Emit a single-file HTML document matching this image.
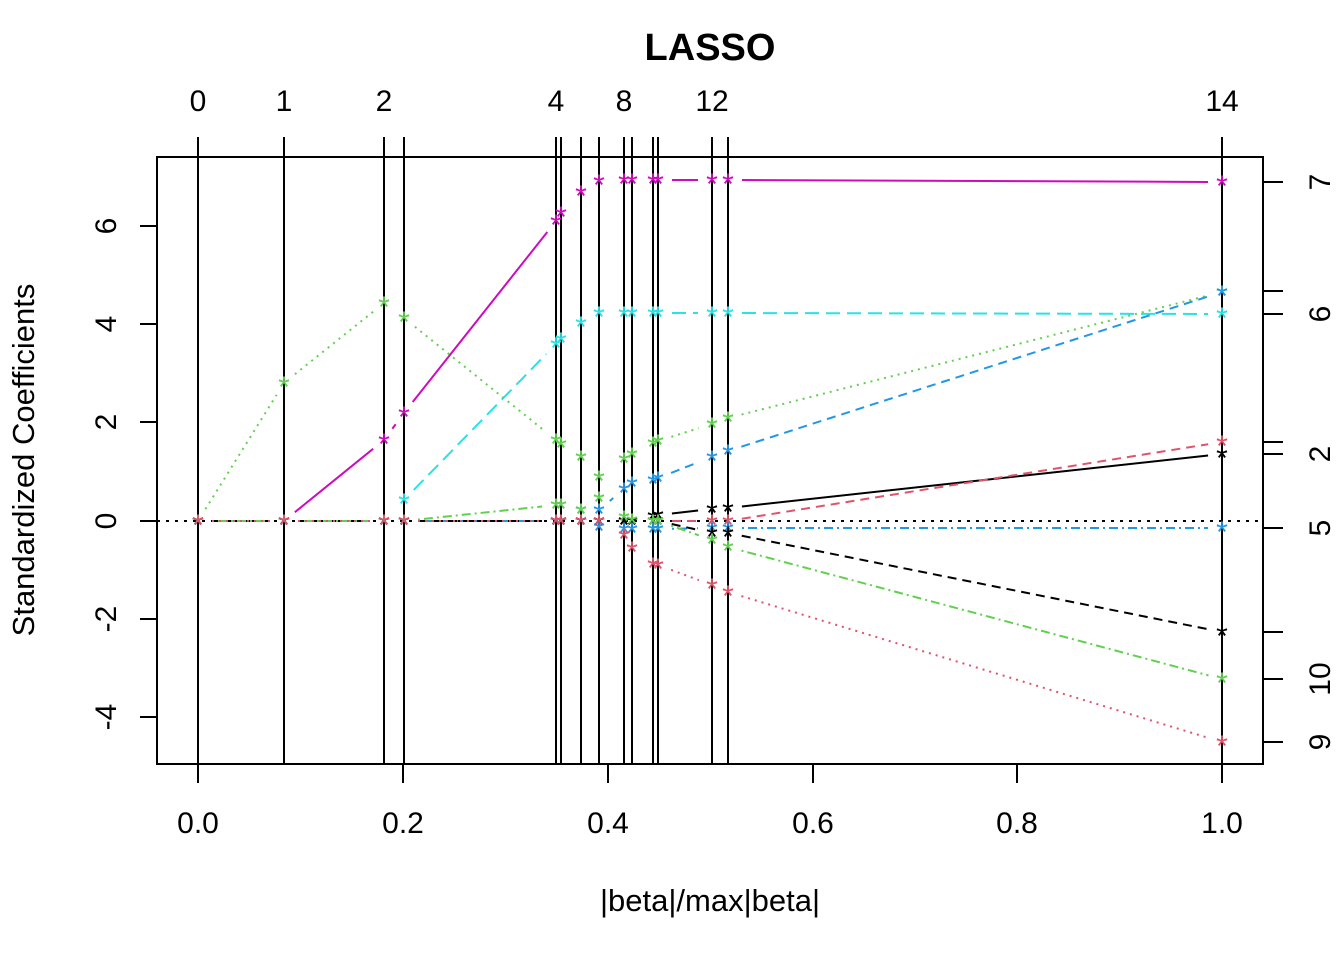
<!DOCTYPE html>
<html><head><meta charset="utf-8">
<style>
html,body{margin:0;padding:0;background:#fff;}
svg{display:block;font-family:"Liberation Sans",sans-serif;}
</style></head>
<body>
<svg id="c" width="1344" height="960" viewBox="0 0 1344 960" xmlns="http://www.w3.org/2000/svg">
<rect x="0" y="0" width="1344" height="960" fill="#fff"/>
<text x="710" y="60" font-size="38" font-weight="bold" text-anchor="middle">LASSO</text>
<g id="g"></g>
<rect x="157" y="157" width="1106" height="607" fill="none" stroke="#000" stroke-width="2"/>
<text x="710" y="911" font-size="31" text-anchor="middle">|beta|/max|beta|</text>
<text transform="translate(34,460) rotate(-90)" font-size="31" text-anchor="middle">Standardized Coefficients</text>
</svg>
<script>
var g=document.getElementById('g'),h='';
var X=[198,284,384,404,556,561,581,599,624,632,653,658,712,728,1222];
function L(x1,y1,x2,y2,s,w,d){h+='<line x1="'+x1+'" y1="'+y1+'" x2="'+x2+'" y2="'+y2+'" stroke="'+s+'" stroke-width="'+(w||2)+'"'+(d?' stroke-dasharray="'+d+'"':'')+'/>';}
function T(x,y,t,o){h+='<text x="'+x+'" y="'+y+'" font-size="30" text-anchor="middle"'+(o||'')+'>'+t+'</text>';}
X.forEach(function(x){L(x,137,x,764,'#000',2);});
L(157,521,1263,521,'#000',2,'3,6');
[[226,'6'],[324,'4'],[422,'2'],[521,'0'],[619,'-2'],[717,'-4']].forEach(function(a){L(140,a[0],157,a[0],'#000',2);T(108,a[0],a[1],' transform="rotate(-90 108 '+a[0]+')" dominant-baseline="middle"');});
[[198,'0.0'],[403,'0.2'],[608,'0.4'],[813,'0.6'],[1017,'0.8'],[1222,'1.0']].forEach(function(a){L(a[0],764,a[0],783,'#000',2);T(a[0],833,a[1]);});
[[198,'0'],[284,'1'],[384,'2'],[556,'4'],[624,'8'],[712,'12'],[1222,'14']].forEach(function(a){T(a[0],111,a[1]);});
[182,291,314,442,454,528,632,679,742].forEach(function(y){L(1263,y,1283,y,'#000',2);});
[[182,'7'],[314,'6'],[454,'2'],[528,'5'],[679,'10'],[742,'9']].forEach(function(a){T(1322,a[0],a[1],' transform="rotate(-90 1322 '+a[0]+')" dominant-baseline="middle"');});
function rep(v,n){var a=[];for(var i=0;i<n;i++)a.push(v);return a;}
var S=[
 ['#CD0BBC','',[521,521,440,413,221,213,192,181,180,180,180,180,180,180,182]],
 ['#28E2E5','14,7',[521,521,521,500,344,339,323,313,313,313,313,313,313,313,314]],
 ['#61D04F','2,5',[521,383,303,318,440,444,457,477,459,454,443,441,424,418,292]],
 ['#2297E6','9,6',[521,521,521,521,521,521,510,510,489,483,480,478,457,451,292]],
 ['#000000','',rep(521,10).concat([516,515,509,508,454])],
 ['#DF536B','9,6',rep(521,14).concat([442])],
 ['#2297E6','2,4,9,4',rep(521,7).concat([527,529,529,529,529,528,528,528])],
 ['#000000','9,6',rep(521,12).concat([533,533,632])],
 ['#61D04F','2,4,9,4',[521,521,521,521,505,505,510,498,517,520,521,521,540,547,679]],
 ['#DF536B','2,5',rep(521,8).concat([535,548,564,565,585,592,742])]
];
S.forEach(function(s){
 var y=s[2];
 for(var i=0;i<14;i++){
  var x1=X[i],y1=y[i],x2=X[i+1],y2=y[i+1],dx=x2-x1,dy=y2-y1,len=Math.sqrt(dx*dx+dy*dy);
  if(len>32){var f=14/len;L(x1+dx*f,y1+dy*f,x2-dx*f,y2-dy*f,s[0],2,s[1]);}
 }
});
S.forEach(function(s){
 for(var i=0;i<15;i++){h+='<text x="'+X[i]+'" y="'+(s[2][i]+14)+'" font-size="30" fill="'+s[0]+'" text-anchor="middle">*</text>';}
});
g.innerHTML=h;
</script>
</body></html>
